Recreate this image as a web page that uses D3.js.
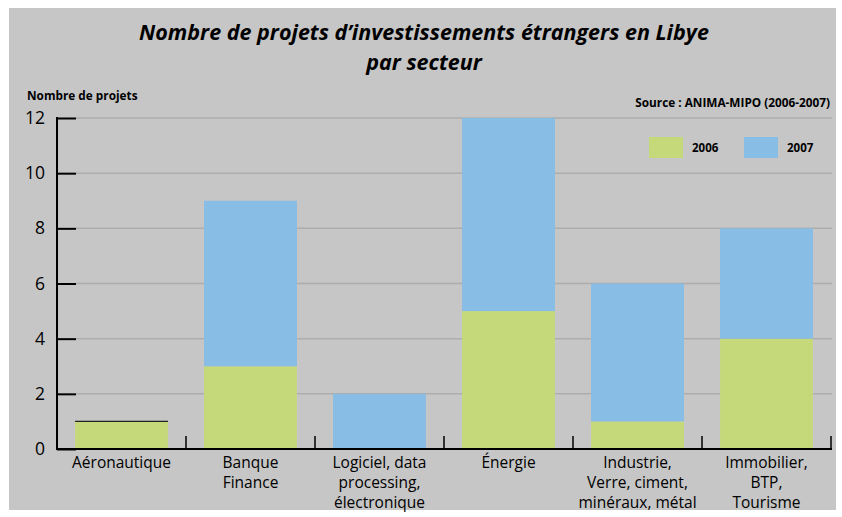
<!DOCTYPE html>
<html>
<head>
<meta charset="utf-8">
<script src="https://cdn.jsdelivr.net/npm/d3@7"></script>
<style>
  body { margin: 0; background: #fff; }
  text { font-family: "Open Sans", "Noto Sans", sans-serif; }
</style>
</head>
<body>
<div id="chart"></div>
<script>
// Data
var categories = [
    ["Aéronautique"],
    ["Banque", "Finance"],
    ["Logiciel, data", "processing,", "électronique"],
    ["Énergie"],
    ["Industrie,", "Verre, ciment,", "minéraux, métal"],
    ["Immobilier,", "BTP,", "Tourisme"]
];
var years = ["2006", "2007"];
var values2006 = [1, 3, 0, 5, 1, 4];
var values2007 = [0, 6, 2, 7, 5, 4];
var yTicks = [0, 2, 4, 6, 8, 10, 12];
var colors = ["#c5d97b", "#88bde6"];

var width = 842, height = 517;
var svg = d3.select("#chart").append("svg")
    .attr("width", width).attr("height", height);

svg.append("rect")
    .attr("x", 9).attr("y", 8)
    .attr("width", 827).attr("height", 502)
    .attr("fill", "#c6c6c6");

var x = d3.scaleBand().domain(d3.range(categories.length))
    .range([57, 831]).paddingInner(0.28).paddingOuter(0.14);
var y = d3.scaleLinear().domain([0, 12]).range([449, 118]);

// grid
svg.append("g").selectAll("line")
    .data(yTicks.slice(1))
    .enter().append("line")
    .attr("x1", 76).attr("x2", 832)
    .attr("y1", function(d) { return y(d); })
    .attr("y2", function(d) { return y(d); })
    .attr("stroke", "#adadad").attr("stroke-width", 1.5);

// stacked bars
var table = categories.map(function(c, i) {
    return { i: i, "2006": values2006[i], "2007": values2007[i] };
});
var stack = d3.stack().keys(years)(table);

var layers = svg.append("g").selectAll("g")
    .data(stack).enter().append("g")
    .attr("fill", function(d, k) { return colors[k]; });

layers.selectAll("rect")
    .data(function(d) { return d; })
    .enter().append("rect")
    .attr("x", function(d) { return x(d.data.i); })
    .attr("width", x.bandwidth())
    .attr("y", function(d) { return y(d[1]); })
    .attr("height", function(d) { return y(d[0]) - y(d[1]); });

// zero-height segments show as thin dark lines
layers.selectAll("line")
    .data(function(d) { return d.filter(function(s) { return s[1] === s[0]; }); })
    .enter().append("line")
    .attr("x1", function(d) { return x(d.data.i); })
    .attr("x2", function(d) { return x(d.data.i) + x.bandwidth(); })
    .attr("y1", function(d) { return y(d[1]); })
    .attr("y2", function(d) { return y(d[1]); })
    .attr("stroke", "#222").attr("stroke-width", 1.2);

// y axis
var yAxis = d3.axisRight(y).tickValues(yTicks).tickSize(19).tickFormat("");
var gy = svg.append("g").attr("transform", "translate(57,0)").call(yAxis);
gy.select(".domain").remove();
gy.selectAll(".tick line").attr("stroke", "#000").attr("stroke-width", 2);
svg.append("line")
    .attr("x1", 57).attr("x2", 57).attr("y1", y(12) - 1).attr("y2", y(0) + 1)
    .attr("stroke", "#000").attr("stroke-width", 2);
svg.append("g").selectAll("text")
    .data(yTicks).enter().append("text")
    .attr("x", 45).attr("y", function(d) { return y(d) + 6; })
    .attr("text-anchor", "end")
    .attr("font-size", 17.5)
    .text(function(d) { return d; });

// x axis
svg.append("line")
    .attr("x1", 56).attr("x2", 832).attr("y1", y(0)).attr("y2", y(0))
    .attr("stroke", "#000").attr("stroke-width", 2);
var step = x.step();
svg.append("g").selectAll("line")
    .data(d3.range(1, categories.length + 1))
    .enter().append("line")
    .attr("x1", function(d) { return 57 + d * step; })
    .attr("x2", function(d) { return 57 + d * step; })
    .attr("y1", y(0)).attr("y2", y(0) - 13)
    .attr("stroke", "#000").attr("stroke-width", 1.5);

var labels = svg.append("g").selectAll("text")
    .data(categories).enter().append("text")
    .attr("text-anchor", "middle")
    .attr("font-size", 15.5)
    .attr("transform", function(d, i) {
        return "translate(" + (x(i) + x.bandwidth() / 2) + ",468)";
    });
labels.selectAll("tspan")
    .data(function(d) { return d; })
    .enter().append("tspan")
    .attr("x", 0)
    .attr("y", function(d, j) { return j * 20; })
    .text(function(d) { return d; });

// titles
svg.append("text")
    .attr("x", 424).attr("y", 40)
    .attr("text-anchor", "middle")
    .attr("font-size", 21.5).attr("font-weight", "bold").attr("font-style", "italic")
    .text("Nombre de projets d’investissements étrangers en Libye");
svg.append("text")
    .attr("x", 424).attr("y", 70)
    .attr("text-anchor", "middle")
    .attr("font-size", 21.5).attr("font-weight", "bold").attr("font-style", "italic")
    .text("par secteur");

svg.append("text")
    .attr("x", 27).attr("y", 100)
    .attr("font-size", 11.8).attr("font-weight", "bold")
    .text("Nombre de projets");
svg.append("text")
    .attr("x", 830).attr("y", 107)
    .attr("text-anchor", "end")
    .attr("font-size", 11.8).attr("font-weight", "bold")
    .text("Source : ANIMA-MIPO (2006-2007)");

// legend
var legend = svg.append("g").selectAll("g")
    .data(years).enter().append("g")
    .attr("transform", function(d, k) { return "translate(" + (649 + k * 95) + ",137)"; });
legend.append("rect")
    .attr("width", 34).attr("height", 21)
    .attr("fill", function(d, k) { return colors[k]; });
legend.append("text")
    .attr("x", 43).attr("y", 15)
    .attr("font-size", 11.5).attr("font-weight", "bold")
    .text(function(d) { return d; });
</script>
</body>
</html>
